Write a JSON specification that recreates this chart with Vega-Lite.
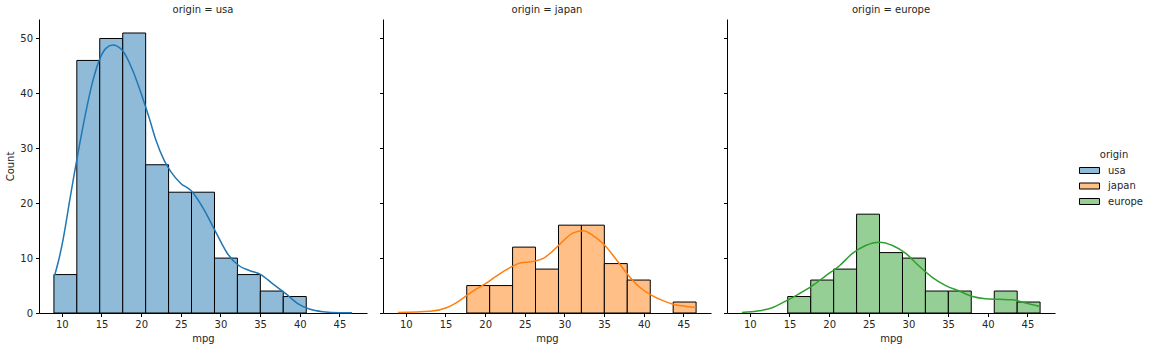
{
  "$schema": "https://vega.github.io/schema/vega-lite/v6.json",
  "padding": {"left": 5, "top": 5, "right": 5, "bottom": 5},
  "background": "white",
  "config": {
    "font": "DejaVu Sans",
    "view": {"stroke": null},
    "concat": {"spacing": 12},
    "axis": {
      "grid": false,
      "domainColor": "#000000",
      "tickColor": "#000000",
      "tickSize": 3.5,
      "labelFontSize": 10,
      "labelColor": "#262626",
      "titleFontSize": 10,
      "titleFontWeight": "normal",
      "titleColor": "#262626",
      "labelPadding": 3
    },
    "title": {"fontSize": 10, "fontWeight": "normal", "color": "#262626", "offset": 4},
    "legend": {"labelFontSize": 10, "titleFontSize": 10, "titleFontWeight": "normal", "labelColor": "#262626", "titleColor": "#262626"}
  },
  "datasets": {
    "hist": [
      {"origin": "usa", "lo": 9.0, "hi": 11.89, "count": 7},
      {"origin": "usa", "lo": 11.89, "hi": 14.78, "count": 46},
      {"origin": "usa", "lo": 14.78, "hi": 17.68, "count": 50},
      {"origin": "usa", "lo": 17.68, "hi": 20.57, "count": 51},
      {"origin": "usa", "lo": 20.57, "hi": 23.46, "count": 27},
      {"origin": "usa", "lo": 23.46, "hi": 26.35, "count": 22},
      {"origin": "usa", "lo": 26.35, "hi": 29.25, "count": 22},
      {"origin": "usa", "lo": 29.25, "hi": 32.14, "count": 10},
      {"origin": "usa", "lo": 32.14, "hi": 35.03, "count": 7},
      {"origin": "usa", "lo": 35.03, "hi": 37.92, "count": 4},
      {"origin": "usa", "lo": 37.92, "hi": 40.82, "count": 3},
      {"origin": "japan", "lo": 17.68, "hi": 20.57, "count": 5},
      {"origin": "japan", "lo": 20.57, "hi": 23.46, "count": 5},
      {"origin": "japan", "lo": 23.46, "hi": 26.35, "count": 12},
      {"origin": "japan", "lo": 26.35, "hi": 29.25, "count": 8},
      {"origin": "japan", "lo": 29.25, "hi": 32.14, "count": 16},
      {"origin": "japan", "lo": 32.14, "hi": 35.03, "count": 16},
      {"origin": "japan", "lo": 35.03, "hi": 37.92, "count": 9},
      {"origin": "japan", "lo": 37.92, "hi": 40.82, "count": 6},
      {"origin": "japan", "lo": 43.71, "hi": 46.6, "count": 2},
      {"origin": "europe", "lo": 14.78, "hi": 17.68, "count": 3},
      {"origin": "europe", "lo": 17.68, "hi": 20.57, "count": 6},
      {"origin": "europe", "lo": 20.57, "hi": 23.46, "count": 8},
      {"origin": "europe", "lo": 23.46, "hi": 26.35, "count": 18},
      {"origin": "europe", "lo": 26.35, "hi": 29.25, "count": 11},
      {"origin": "europe", "lo": 29.25, "hi": 32.14, "count": 10},
      {"origin": "europe", "lo": 32.14, "hi": 35.03, "count": 4},
      {"origin": "europe", "lo": 35.03, "hi": 37.92, "count": 4},
      {"origin": "europe", "lo": 40.82, "hi": 43.71, "count": 4},
      {"origin": "europe", "lo": 43.71, "hi": 46.6, "count": 2}
    ],
    "kde": [
      {"origin": "usa", "mpg": 9.1, "density": 6.9},
      {"origin": "usa", "mpg": 9.6, "density": 9.6},
      {"origin": "usa", "mpg": 10.08, "density": 12.8},
      {"origin": "usa", "mpg": 10.5, "density": 16.2},
      {"origin": "usa", "mpg": 10.92, "density": 19.9},
      {"origin": "usa", "mpg": 11.55, "density": 25.2},
      {"origin": "usa", "mpg": 12.1, "density": 29.6},
      {"origin": "usa", "mpg": 13.0, "density": 36.4},
      {"origin": "usa", "mpg": 13.86, "density": 42.0},
      {"origin": "usa", "mpg": 14.9, "density": 46.7},
      {"origin": "usa", "mpg": 15.55, "density": 48.2},
      {"origin": "usa", "mpg": 16.4, "density": 48.8},
      {"origin": "usa", "mpg": 17.65, "density": 47.8},
      {"origin": "usa", "mpg": 18.9, "density": 44.3},
      {"origin": "usa", "mpg": 20.0, "density": 40.0},
      {"origin": "usa", "mpg": 21.02, "density": 35.5},
      {"origin": "usa", "mpg": 21.86, "density": 31.5},
      {"origin": "usa", "mpg": 22.9, "density": 27.8},
      {"origin": "usa", "mpg": 23.76, "density": 25.7},
      {"origin": "usa", "mpg": 25.0, "density": 23.6},
      {"origin": "usa", "mpg": 26.28, "density": 22.3},
      {"origin": "usa", "mpg": 27.74, "density": 19.3},
      {"origin": "usa", "mpg": 29.43, "density": 14.7},
      {"origin": "usa", "mpg": 30.9, "density": 10.8},
      {"origin": "usa", "mpg": 32.3, "density": 8.65},
      {"origin": "usa", "mpg": 33.64, "density": 7.73},
      {"origin": "usa", "mpg": 35.1, "density": 7.0},
      {"origin": "usa", "mpg": 36.6, "density": 5.3},
      {"origin": "usa", "mpg": 38.27, "density": 3.47},
      {"origin": "usa", "mpg": 39.7, "density": 1.77},
      {"origin": "usa", "mpg": 41.2, "density": 0.73},
      {"origin": "usa", "mpg": 42.9, "density": 0.24},
      {"origin": "usa", "mpg": 45.0, "density": 0.06},
      {"origin": "usa", "mpg": 46.6, "density": 0.05},
      {"origin": "japan", "mpg": 9.0, "density": 0.1},
      {"origin": "japan", "mpg": 13.1, "density": 0.3},
      {"origin": "japan", "mpg": 15.2, "density": 1.0},
      {"origin": "japan", "mpg": 16.4, "density": 1.9},
      {"origin": "japan", "mpg": 17.7, "density": 3.2},
      {"origin": "japan", "mpg": 18.9, "density": 4.4},
      {"origin": "japan", "mpg": 20.0, "density": 5.3},
      {"origin": "japan", "mpg": 21.5, "density": 6.8},
      {"origin": "japan", "mpg": 23.2, "density": 8.3},
      {"origin": "japan", "mpg": 24.4, "density": 9.1},
      {"origin": "japan", "mpg": 26.1, "density": 9.4},
      {"origin": "japan", "mpg": 27.4, "density": 10.0},
      {"origin": "japan", "mpg": 28.6, "density": 11.4},
      {"origin": "japan", "mpg": 29.9, "density": 13.2},
      {"origin": "japan", "mpg": 31.1, "density": 14.6},
      {"origin": "japan", "mpg": 32.4, "density": 15.0},
      {"origin": "japan", "mpg": 33.6, "density": 14.1},
      {"origin": "japan", "mpg": 34.9, "density": 12.6},
      {"origin": "japan", "mpg": 36.6, "density": 9.6},
      {"origin": "japan", "mpg": 38.1, "density": 6.8},
      {"origin": "japan", "mpg": 39.5, "density": 4.7},
      {"origin": "japan", "mpg": 41.0, "density": 3.2},
      {"origin": "japan", "mpg": 42.5, "density": 2.2},
      {"origin": "japan", "mpg": 43.7, "density": 1.6},
      {"origin": "japan", "mpg": 45.4, "density": 1.2},
      {"origin": "japan", "mpg": 46.6, "density": 1.0},
      {"origin": "europe", "mpg": 9.0, "density": 0.1},
      {"origin": "europe", "mpg": 11.2, "density": 0.4},
      {"origin": "europe", "mpg": 12.9, "density": 1.0},
      {"origin": "europe", "mpg": 14.7, "density": 2.3},
      {"origin": "europe", "mpg": 16.2, "density": 3.5},
      {"origin": "europe", "mpg": 17.9, "density": 5.0},
      {"origin": "europe", "mpg": 19.6, "density": 6.8},
      {"origin": "europe", "mpg": 21.3, "density": 8.6},
      {"origin": "europe", "mpg": 22.9, "density": 10.8},
      {"origin": "europe", "mpg": 24.6, "density": 12.3},
      {"origin": "europe", "mpg": 26.3, "density": 12.9},
      {"origin": "europe", "mpg": 28.0, "density": 12.3},
      {"origin": "europe", "mpg": 29.7, "density": 10.8},
      {"origin": "europe", "mpg": 31.3, "density": 8.6},
      {"origin": "europe", "mpg": 33.0, "density": 6.5},
      {"origin": "europe", "mpg": 34.7, "density": 5.0},
      {"origin": "europe", "mpg": 36.4, "density": 4.0},
      {"origin": "europe", "mpg": 38.1, "density": 3.0},
      {"origin": "europe", "mpg": 39.7, "density": 2.6},
      {"origin": "europe", "mpg": 41.4, "density": 2.5},
      {"origin": "europe", "mpg": 43.1, "density": 2.4},
      {"origin": "europe", "mpg": 44.8, "density": 1.8},
      {"origin": "europe", "mpg": 46.6, "density": 1.2}
    ]
  },
  "hconcat": [
    {
      "width": 328, "height": 294,
      "title": "origin = usa",
      "layer": [
        {
          "data": {"name": "hist"},
          "transform": [{"filter": "datum.origin === 'usa'"}],
          "mark": {"type": "rect", "stroke": "#000000", "strokeWidth": 1, "opacity": 1},
          "encoding": {
            "x": {"field": "lo", "type": "quantitative", "scale": {"domain": [7.12, 48.48], "nice": false, "zero": false}, "axis": {"title": "mpg", "values": [10, 15, 20, 25, 30, 35, 40, 45]}},
            "x2": {"field": "hi"},
            "y": {"field": "count", "type": "quantitative", "scale": {"domain": [0, 53.55], "nice": false}, "axis": {"title": "Count", "values": [0, 10, 20, 30, 40, 50]}},
            "y2": {"datum": 0},
            "color": {"field": "origin", "type": "nominal", "scale": {"domain": ["usa", "japan", "europe"], "range": ["#8fbbd9", "#ffbf86", "#95cf95"]},
              "legend": {"title": "origin", "orient": "none", "legendX": 1045, "legendY": 131, "titleAnchor": "middle", "symbolType": "M-2,-0.6H2V0.6H-2Z", "symbolSize": 100, "symbolStrokeColor": "#000000", "symbolStrokeWidth": 1, "symbolOpacity": 1, "rowPadding": 4.5, "labelOffset": 13, "titlePadding": 5}}
          }
        },
        {
          "data": {"name": "kde"},
          "transform": [{"filter": "datum.origin === 'usa'"}],
          "mark": {"type": "line", "color": "#1f77b4", "strokeWidth": 1.5, "interpolate": "monotone"},
          "encoding": {
            "x": {"field": "mpg", "type": "quantitative"},
            "y": {"field": "density", "type": "quantitative"}
          }
        }
      ]
    },
    {
      "width": 328, "height": 294,
      "title": "origin = japan",
      "layer": [
        {
          "data": {"name": "hist"},
          "transform": [{"filter": "datum.origin === 'japan'"}],
          "mark": {"type": "rect", "stroke": "#000000", "strokeWidth": 1, "opacity": 1},
          "encoding": {
            "x": {"field": "lo", "type": "quantitative", "scale": {"domain": [7.12, 48.48], "nice": false, "zero": false}, "axis": {"title": "mpg", "values": [10, 15, 20, 25, 30, 35, 40, 45]}},
            "x2": {"field": "hi"},
            "y": {"field": "count", "type": "quantitative", "scale": {"domain": [0, 53.55], "nice": false}, "axis": {"title": null, "labels": false, "values": [0, 10, 20, 30, 40, 50]}},
            "y2": {"datum": 0},
            "color": {"field": "origin", "type": "nominal"}
          }
        },
        {
          "data": {"name": "kde"},
          "transform": [{"filter": "datum.origin === 'japan'"}],
          "mark": {"type": "line", "color": "#ff7f0e", "strokeWidth": 1.5, "interpolate": "monotone"},
          "encoding": {
            "x": {"field": "mpg", "type": "quantitative"},
            "y": {"field": "density", "type": "quantitative"}
          }
        }
      ]
    },
    {
      "width": 328, "height": 294,
      "title": "origin = europe",
      "layer": [
        {
          "data": {"name": "hist"},
          "transform": [{"filter": "datum.origin === 'europe'"}],
          "mark": {"type": "rect", "stroke": "#000000", "strokeWidth": 1, "opacity": 1},
          "encoding": {
            "x": {"field": "lo", "type": "quantitative", "scale": {"domain": [7.12, 48.48], "nice": false, "zero": false}, "axis": {"title": "mpg", "values": [10, 15, 20, 25, 30, 35, 40, 45]}},
            "x2": {"field": "hi"},
            "y": {"field": "count", "type": "quantitative", "scale": {"domain": [0, 53.55], "nice": false}, "axis": {"title": null, "labels": false, "values": [0, 10, 20, 30, 40, 50]}},
            "y2": {"datum": 0},
            "color": {"field": "origin", "type": "nominal"}
          }
        },
        {
          "data": {"name": "kde"},
          "transform": [{"filter": "datum.origin === 'europe'"}],
          "mark": {"type": "line", "color": "#2ca02c", "strokeWidth": 1.5, "interpolate": "monotone"},
          "encoding": {
            "x": {"field": "mpg", "type": "quantitative"},
            "y": {"field": "density", "type": "quantitative"}
          }
        }
      ]
    }
  ]
}
